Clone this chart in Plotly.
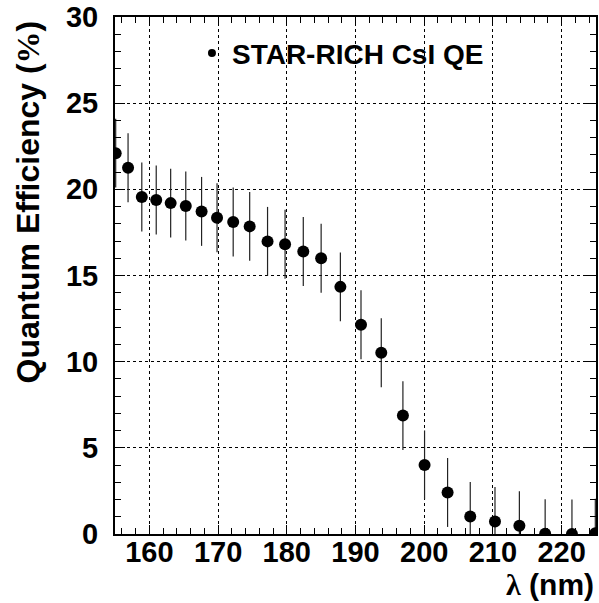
import plotly.graph_objects as go

wavelength_nm = [155.1, 156.9, 158.9, 161.0, 163.1, 165.3, 167.6, 169.85, 172.2, 174.6,
                 177.2, 179.75, 182.4, 185.0, 187.8, 190.8, 193.75, 196.9, 200.05, 203.4,
                 206.7, 210.3, 213.85, 217.6, 221.5, 224.9]
qe_percent = [22.1, 21.25, 19.55, 19.38, 19.2, 19.03, 18.72, 18.35, 18.1, 17.85,
              16.98, 16.81, 16.39, 16.0, 14.34, 12.14, 10.52, 6.87, 4.01, 2.41,
              1.02, 0.73, 0.48, 0.02, 0.0, 0.05]
qe_error = [2.0] * len(qe_percent)
series_name = "STAR-RICH CsI QE"
x_ticks = [160, 170, 180, 190, 200, 210, 220]
y_ticks = [0, 5, 10, 15, 20, 25, 30]

FONT = "Liberation Sans, Arial, sans-serif"

fig = go.Figure()
fig.add_trace(go.Scatter(
    x=wavelength_nm, y=qe_percent, mode="markers", showlegend=False,
    marker=dict(size=12, color="black"),
    error_y=dict(type="data", array=qe_error, visible=True, color="#222222",
                 thickness=1.2, width=0),
))
# legend proxy (no data of its own)
fig.add_trace(go.Scatter(
    x=[None], y=[None], mode="markers", name=series_name,
    marker=dict(size=8, color="black"),
))

axis_common = dict(
    showline=True, linecolor="black", linewidth=2, mirror="allticks",
    ticks="inside", tickcolor="black", tickwidth=1,
    showgrid=True, gridcolor="black", gridwidth=1, griddash="dot",
    zeroline=False,
    tickfont=dict(family=FONT, size=29, color="black", weight="bold"),
)

fig.update_xaxes(
    range=[155, 225], tickvals=x_ticks, ticklen=9,
    minor=dict(dtick=2, ticklen=6, ticks="inside", tickcolor="black", showgrid=False),
    ticklabelstandoff=-9,
    **axis_common,
)
fig.update_yaxes(
    range=[0, 30], tickvals=y_ticks, ticklen=10,
    minor=dict(dtick=1, ticklen=6, ticks="inside", tickcolor="black", showgrid=False),
    ticklabelstandoff=9,
    **axis_common,
)

fig.add_annotation(
    text="Quantum Efficiency (<span style='font-family:Liberation Serif'>%</span>)",
    textangle=-90, xref="x", yref="y", x=155, y=19.24, xshift=-87,
    xanchor="center", yanchor="middle", showarrow=False,
    font=dict(family=FONT, size=32, color="black", weight="bold"),
)
fig.add_annotation(
    text="<span style='font-family:Liberation Serif'>λ</span> (nm)",
    xref="paper", yref="paper", x=1, y=0, yshift=-69,
    xanchor="right", yanchor="bottom", showarrow=False,
    font=dict(family=FONT, size=30, color="black", weight="bold"),
)

fig.update_layout(
    width=599, height=603,
    margin=dict(l=115, r=1, t=16, b=69),
    paper_bgcolor="white", plot_bgcolor="white",
    legend=dict(x=0.16, y=0.93, xanchor="left", yanchor="middle",
                bgcolor="rgba(0,0,0,0)",
                font=dict(family=FONT, size=28, color="black", weight="bold")),
)

fig.write_html("out.html")
